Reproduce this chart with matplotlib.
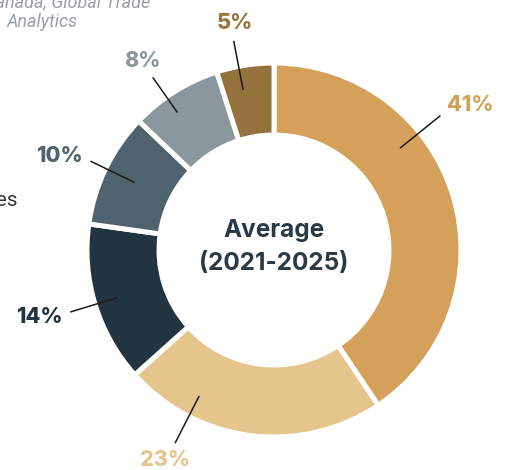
import matplotlib
matplotlib.use("Agg")
import matplotlib.pyplot as plt
import numpy as np

# ---- data ----
labels = ["41%", "23%", "14%", "10%", "8%", "5%"]
values = [41, 23, 14, 10, 8, 5]
colors = ["#D4A05A", "#E5C58B", "#233441", "#4F626D", "#8A979D", "#94713D"]
label_colors = ["#D4A05A", "#E5C58B", "#233441", "#4F626D", "#8A979D", "#9A743C"]
label_shift = [22, -20, 0, 0, 3, 2]   # degrees shift of leader line from wedge middle
line_r = [(162, 214), (164, 217), (164, 213), (155, 204), (168, 211), (163, 213)]
label_offset = [(30, 11), (-10, -17), (-31, -5), (-31, 5), (-10, 16), (1, 18)]  # px from line end
center_text = "Average\n(2021-2025)"

W, H = 511, 470
cx, cy = 274, 250
R_out, R_in = 187, 115

fig = plt.figure(figsize=(W / 100, H / 100), dpi=100)
ax = fig.add_axes([0, 0, 1, 1])

wedges, _ = ax.pie(values, colors=colors, startangle=90, counterclock=False,
                   radius=R_out,
                   wedgeprops=dict(width=R_out - R_in, edgecolor="white", linewidth=3.6))
ax.set_xlim(-cx, W - cx)
ax.set_ylim(-(H - cy), cy)
ax.set_aspect("equal")
ax.axis("off")

font = "Inter"
for w, lab, lc, sh, (r0, r1), off in zip(wedges, labels, label_colors, label_shift,
                                         line_r, label_offset):
    mid = (w.theta1 + w.theta2) / 2 + sh
    a = np.deg2rad(mid)
    x1, y1 = r1 * np.cos(a), r1 * np.sin(a)
    ax.plot([r0 * np.cos(a), x1], [r0 * np.sin(a), y1],
            color="#1a1a1a", lw=1.1, solid_capstyle="butt")
    ax.text(x1 + off[0], y1 + off[1], lab, ha="center", va="center",
            color=lc, fontsize=15.5, fontweight="heavy", family=font)

ax.text(0, 3, center_text, ha="center", va="center", color="#2A3A45",
        fontsize=17.5, fontweight="bold", family=font, linespacing=1.55)

# cropped fragments at left
fig.text(150 / W, 1 - 2 / H, "Statistics Canada, Global Trade", ha="right", va="center",
         color="#9AA0A6", fontsize=13, style="italic", family="Roboto")
fig.text(42 / W, 1 - 22 / H, "Analytics", ha="center", va="center",
         color="#9AA0A6", fontsize=13, style="italic", family="Roboto")
fig.text(18 / W, 1 - 200 / H, "Categories", ha="right", va="center",
         color="#333333", fontsize=15, family="Roboto")

fig.savefig("out.png", dpi=100)
